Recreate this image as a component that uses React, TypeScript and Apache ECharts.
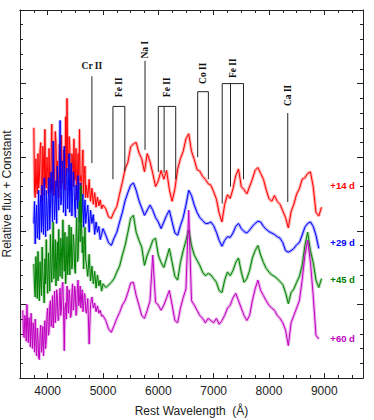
import React, { useEffect, useRef } from "react";
import * as echarts from "echarts";

// Rest wavelength grid (Å)
const wavelength = [
  3550, 3562.5, 3575, 3587.5, 3600, 3612.5, 3625, 3637.5, 3650, 3662.5,
  3675, 3687.5, 3700, 3712.5, 3725, 3737.5, 3750, 3762.5, 3775, 3787.5,
  3800, 3812.5, 3825, 3837.5, 3850, 3862.5, 3875, 3887.5, 3900, 3912.5,
  3925, 3937.5, 3950, 3962.5, 3975, 3987.5, 4000, 4012.5, 4025, 4037.5,
  4050, 4062.5, 4075, 4087.5, 4100, 4112.5, 4125, 4137.5, 4150, 4162.5,
  4175, 4187.5, 4200, 4212.5, 4225, 4237.5, 4250, 4262.5, 4275, 4287.5,
  4300, 4312.5, 4325, 4337.5, 4350, 4362.5, 4375, 4387.5, 4400, 4412.5,
  4425, 4437.5, 4450, 4462.5, 4475, 4487.5, 4500, 4512.5, 4525, 4537.5,
  4550, 4562.5, 4575, 4587.5, 4600, 4612.5, 4625, 4637.5, 4650, 4662.5,
  4675, 4687.5,
  4700, 4725, 4750, 4775, 4800, 4825, 4850, 4875, 4900, 4925, 4950, 4975,
  5000, 5050, 5100, 5150, 5200, 5250, 5300, 5350, 5400, 5450, 5500, 5550, 5600, 5650, 5700, 5750, 5800, 5850, 5900, 5950,
  6000, 6050, 6100, 6150, 6200, 6250, 6300, 6350, 6400, 6450, 6500, 6550, 6600, 6650, 6700, 6750, 6800, 6850, 6900, 6950,
  7000, 7050, 7100, 7150, 7200, 7250, 7300, 7350, 7400, 7450, 7500, 7550, 7600, 7650, 7700, 7750, 7800, 7850, 7900, 7950,
  8000, 8050, 8100, 8150, 8200, 8250, 8300, 8350, 8400, 8450, 8500, 8550, 8600, 8650, 8700, 8750, 8800, 8850, 8900, 8950,
];

// Relative flux + constant, per epoch
const flux14 = [
  null, null, null, null, null, null, null, null, null, null,
  null, null, null, null, null, null,
  3.40, 2.55, 2.45, 2.98, 2.62, 2.50, 3.05, 2.58, 2.70, 3.10,
  3.20, 2.52, 2.40, 3.15, 2.95, 2.48, 3.38, 2.62, 2.58, 3.00,
  2.78, 2.50, 3.12, 2.66, 2.52, 3.02, 3.45, 2.55, 2.85, 2.48,
  2.66, 3.35, 3.22, 2.60, 2.95, 2.70, 2.45, 3.18, 3.05, 2.58,
  3.30, 2.65, 2.72, 3.10, 2.92, 2.55, 3.55, 2.75, 3.80, 2.95,
  2.80, 3.28, 3.15, 2.55, 2.62, 3.05, 2.98, 2.60, 3.25, 2.68,
  2.70, 3.12, 2.42, 2.72, 3.05, 2.55, 3.38, 2.68, 2.75, 2.48,
  2.95, 3.10, 2.50, 2.78, 2.88, 2.45,
  2.62, 2.45, 2.70, 2.40, 2.58, 2.36, 2.52, 2.32, 2.46, 2.34, 2.42, 2.30,
  2.35, 2.30, 2.19, 2.17, 2.26, 2.33, 2.50, 2.66, 2.84, 2.93, 3.14, 3.18, 3.20, 3.06, 2.98, 2.80, 3.05, 2.94, 2.78, 2.60,
  2.68, 2.82, 2.70, 2.82, 2.56, 2.40, 2.57, 2.84, 2.98, 3.08, 3.25, 3.32, 3.08, 2.97, 2.83, 2.81, 2.74, 2.70, 2.64, 2.62,
  2.53, 2.43, 2.24, 2.12, 2.36, 2.49, 2.44, 2.57, 2.75, 2.84, 2.60, 2.56, 2.50, 2.60, 2.70, 2.82, 2.86, 2.78, 2.70, 2.56,
  2.44, 2.40, 2.48, 2.40, 2.36, 2.27, 2.18, 2.04, 2.26, 2.36, 2.50, 2.57, 2.70, 2.72, 2.78, 2.80, 2.60, 2.25, 2.20, 2.32,
];
const flux29 = [
  null, null, null, null, null, null, null, null, null, null,
  null, null, null, null, null, null,
  2.10, 2.40, 1.82, 2.15, 2.35, 1.90, 2.05, 2.55, 1.88, 2.30,
  2.48, 1.98, 2.62, 2.15, 1.95, 2.72, 2.25, 1.92, 2.55, 2.30,
  2.00, 2.45, 2.72, 2.02, 2.30, 2.80, 2.50, 2.12, 3.22, 2.55,
  2.15, 2.42, 2.68, 2.10, 2.88, 2.50, 2.28, 2.75, 3.50, 2.35,
  2.40, 2.95, 2.70, 2.25, 3.15, 2.55, 2.20, 2.78, 2.85, 2.30,
  2.60, 3.05, 2.25, 2.60, 2.92, 2.20, 2.45, 2.80, 2.70, 2.32,
  2.18, 2.62, 2.55, 2.30, 2.75, 2.40, 2.12, 2.65, 2.48, 2.15,
  2.30, 2.50, 2.05, 2.25, 2.42, 2.10,
  2.20, 2.35, 1.98, 2.28, 2.10, 2.22, 1.95, 2.12, 1.98, 2.06, 1.88, 1.95,
  2.03, 1.94, 1.84, 1.80, 1.90, 1.98, 2.12, 2.25, 2.41, 2.52, 2.62, 2.65, 2.55, 2.41, 2.31, 2.21, 2.28, 2.35, 2.28, 2.18,
  2.12, 2.03, 2.12, 2.21, 2.28, 2.12, 1.97, 1.94, 2.07, 2.18, 2.35, 2.55, 2.48, 2.35, 2.25, 2.18, 2.14, 2.10, 2.10, 2.12,
  2.07, 1.98, 1.87, 1.79, 1.87, 1.92, 1.91, 1.97, 2.06, 2.10, 2.03, 1.99, 1.97, 2.01, 2.06, 2.10, 2.13, 2.12, 2.06, 2.02,
  1.99, 1.97, 1.95, 1.92, 1.90, 1.84, 1.73, 1.71, 1.73, 1.76, 1.81, 1.84, 1.94, 2.05, 2.10, 2.12, 2.06, 1.94, 1.76, null,
];
const flux45 = [
  null, null, null, null, null, null, null, null, null, null,
  null, null, null, null, null, null,
  1.55, 1.25, 1.10, 1.65, 1.40, 1.08, 1.72, 1.35, 1.05, 1.58,
  1.30, 1.12, 1.78, 1.45, 1.20, 1.02, 1.62, 1.28, 1.88, 1.40,
  1.15, 1.70, 1.45, 1.18, 1.95, 1.50, 1.30, 1.75, 2.12, 1.35,
  1.55, 1.88, 1.25, 1.60, 1.85, 1.32, 2.02, 1.65, 1.38, 1.90,
  1.70, 1.35, 2.15, 1.72, 1.45, 1.98, 1.28, 1.55, 1.92, 1.40,
  1.62, 2.08, 1.40, 1.75, 2.05, 1.48, 1.58, 1.95, 1.82, 1.50,
  1.42, 1.90, 2.18, 1.58, 1.62, 2.05, 2.40, 1.85, 2.62, 2.10,
  1.70, 1.92, 1.48, 1.80, 2.05, 1.60,
  1.55, 1.38, 1.68, 1.32, 1.52, 1.28, 1.45, 1.22, 1.40, 1.25, 1.33, 1.18,
  1.28, 1.23, 1.26, 1.30, 1.35, 1.44, 1.52, 1.67, 1.80, 1.98, 2.17, 2.21, 1.98, 1.87, 1.78, 1.53, 1.67, 1.76, 1.87, 1.90,
  1.67, 1.57, 1.50, 1.63, 1.76, 1.57, 1.38, 1.33, 1.57, 1.73, 1.87, 2.01, 1.80, 1.67, 1.60, 1.53, 1.44, 1.39, 1.42, 1.40,
  1.35, 1.30, 1.19, 1.16, 1.33, 1.44, 1.39, 1.46, 1.57, 1.63, 1.44, 1.30, 1.35, 1.46, 1.63, 1.73, 1.80, 1.67, 1.57, 1.49,
  1.44, 1.40, 1.38, 1.35, 1.31, 1.27, 1.16, 1.01, 1.16, 1.21, 1.30, 1.38, 1.53, 1.80, 1.98, 1.73, 1.57, 1.33, 1.23, 1.35,
];
const flux60 = [
  0.92, 0.60, 0.55, 0.85, 0.78, 0.50, 1.00, 0.72, 0.48, 0.82,
  0.70, 0.42, 0.88, 0.62, 0.40, 0.75, 0.62, 0.35, 0.80, 0.50,
  0.30, 0.68, 0.55, 0.28, 0.25, 0.60, 0.72, 0.35, 0.45, 0.70,
  0.30, 0.58, 0.78, 0.40, 0.52, 0.85, 0.95, 0.58, 0.62, 0.98,
  1.05, 0.70, 0.80, 1.12, 0.68, 0.90, 1.18, 0.75, 0.88, 1.20,
  1.10, 0.78, 0.80, 1.08, 1.22, 0.85, 0.95, 1.25, 1.30, 0.90,
  0.37, 0.95, 1.02, 0.80, 1.25, 1.05, 0.88, 1.20, 1.10, 0.82,
  0.85, 1.15, 1.28, 0.92, 1.00, 1.25, 1.18, 0.85, 0.92, 1.22,
  1.33, 0.98, 1.05, 1.25, 0.95, 1.10, 1.20, 0.90, 0.98, 1.15,
  1.12, 0.92,
  0.88, 1.08, 0.46, 1.00, 1.10, 0.95, 1.02, 0.90, 0.98, 0.88, 0.92, 0.84,
  0.85, 0.78, 0.67, 0.62, 0.71, 0.81, 0.89, 0.99, 1.05, 1.16, 1.29, 1.30, 1.12, 0.99, 0.85, 0.81, 0.92, 1.05, 1.67, 1.03,
  0.99, 0.92, 0.99, 1.09, 1.19, 0.99, 0.78, 0.75, 0.95, 1.09, 1.21, 2.28, 1.05, 0.99, 0.92, 0.85, 0.81, 0.75, 0.81, 0.78,
  0.75, 0.81, 0.73, 0.78, 0.85, 0.95, 0.99, 1.09, 1.15, 1.05, 0.95, 0.85, 0.78, 0.85, 1.05, 1.21, 1.33, 1.19, 1.12, 1.05,
  0.99, 0.95, 0.92, 0.85, 0.81, 0.75, 0.65, 0.44, 0.75, 0.85, 0.95, 1.05, 1.33, 1.67, 1.87, 1.57, 1.12, 0.58, 0.53, null,
];

const epochNames = ["+14 d", "+29 d", "+45 d", "+60 d"];
const epochColors = ["#ff0000", "#0000ff", "#008000", "#c000c0"];
const epochLabelY = [2.62, 1.84, 1.34, 0.54];
const epochLabelX = 9110;

// Line identifications
const lineIdNames = ["Cr II", "Fe II", "Na I", "Fe II", "Co II", "Fe II", "Ca II"];
const lineIdWavelengths = [[4800], [5180, 5395], [5760], [6000, 6105, 6315], [6712, 6905], [7155, 7305, 7540], [8340]];
const lineIdTops = [4.10, 3.69, 4.31, 3.69, 3.89, 4.00, 3.60];
const lineIdBottoms = [[2.92], [2.70, 2.81], [3.10], [2.80, 2.79, 2.70], [3.00, 2.70], [2.37, 2.60, 2.70], [2.39]];
const lineIdLabelY = [4.24, 3.95, 4.46, 3.95, 4.14, 4.21, 3.84];
const lineIdRotated = [false, true, true, true, true, true, true];

const majorTicks = [4000, 5000, 6000, 7000, 8000, 9000];
const minorTicks = [3750, 4250, 4500, 4750, 5250, 5500, 5750, 6250, 6500, 6750, 7250, 7500, 7750, 8250, 8500, 8750, 9250, 9500];

const AXIS_COLOR = "#222";
const SANS = '"Liberation Sans", Arial, sans-serif';
const SERIF = '"Liberation Serif", "Times New Roman", serif';

export default function App() {
  const ref = useRef<HTMLDivElement>(null);
  useEffect(() => {
    document.body.style.margin = "0";
    const chart = echarts.init(ref.current!, undefined, { renderer: "svg" });
    const lineStyle = { color: AXIS_COLOR, width: 1 };
    const xCommon = { type: "value", min: 3500, max: 9700, splitLine: { show: false }, axisLine: { show: true, onZero: false, lineStyle } };
    const yCommon = {
      type: "value", min: 0, max: 5, interval: 1, splitLine: { show: false },
      axisLine: { show: true, onZero: false, lineStyle },
      axisTick: { show: true, inside: true, length: 6, lineStyle },
      minorTick: { show: true, splitNumber: 5, length: 3, lineStyle },
      axisLabel: { show: false },
    };
    const fluxes = [flux14, flux29, flux45, flux60];
    const spectra: any[] = [];
    fluxes.forEach((f, k) => {
      const data = wavelength.map((w, i) => [w, f[i]]).filter((p) => p[1] !== null && p[1] !== undefined);
      spectra.push({
        type: "line", name: epochNames[k] + " halo", xAxisIndex: 0, yAxisIndex: 0,
        showSymbol: false, symbol: "none", silent: true, data,
        lineStyle: { color: epochColors[k], width: 3.2, opacity: 0.3 }, z: 2 + k,
      });
      spectra.push({
        type: "line", name: epochNames[k], xAxisIndex: 0, yAxisIndex: 0,
        showSymbol: false, symbol: "none", silent: true, data,
        lineStyle: { color: epochColors[k], width: 1 }, z: 2 + k,
      });
    });
    const option: any = {
      animation: false,
      grid: { left: 20, right: 11, top: 10, bottom: 42, containLabel: false, outerBoundsMode: "none" },
      xAxis: [
        {
          ...xCommon, position: "bottom",
          axisTick: { show: true, inside: true, length: 5, customValues: majorTicks, lineStyle },
          axisLabel: {
            show: true, customValues: majorTicks, fontSize: 12, color: AXIS_COLOR, fontFamily: SANS, margin: 7,
            formatter: (v: number) => String(v),
          },
          name: "Rest Wavelength  (Å)", nameLocation: "middle", nameGap: 27,
          nameTextStyle: { fontSize: 12, color: AXIS_COLOR, fontFamily: SANS },
        },
        {
          ...xCommon, position: "bottom",
          axisTick: { show: true, inside: true, length: 3, customValues: minorTicks, lineStyle },
          axisLabel: { show: false },
        },
        {
          ...xCommon, position: "top",
          axisTick: { show: true, inside: true, length: 5, customValues: majorTicks, lineStyle },
          axisLabel: { show: false },
        },
        {
          ...xCommon, position: "top",
          axisTick: { show: true, inside: true, length: 3, customValues: minorTicks, lineStyle },
          axisLabel: { show: false },
        },
      ],
      yAxis: [
        {
          ...yCommon, position: "left",
          name: "Relative flux + Constant", nameLocation: "middle", nameGap: 7, nameRotate: 90,
          nameTextStyle: { fontSize: 12, color: AXIS_COLOR, fontFamily: SANS },
        },
        { ...yCommon, position: "right" },
      ],
      series: [
        ...spectra,
        {
          type: "custom",
          xAxisIndex: 0,
          yAxisIndex: 0,
          silent: true,
          clip: false,
          z: 10,
          data: lineIdNames.map((_, i) => [lineIdWavelengths[i][0], lineIdTops[i]]),
          renderItem: (params: any, api: any) => {
            const i = params.dataIndex;
            const ws = lineIdWavelengths[i];
            const top = lineIdTops[i];
            const children: any[] = [];
            const ls = { stroke: "#222", lineWidth: 1 };
            ws.forEach((w, j) => {
              const p1 = api.coord([w, top]);
              const p2 = api.coord([w, lineIdBottoms[i][j]]);
              children.push({ type: "line", shape: { x1: p1[0], y1: p1[1], x2: p2[0], y2: p2[1] }, style: ls });
            });
            if (ws.length > 1) {
              const a = api.coord([ws[0], top]);
              const b = api.coord([ws[ws.length - 1], top]);
              children.push({ type: "line", shape: { x1: a[0], y1: a[1], x2: b[0], y2: b[1] }, style: ls });
            }
            const cx = (ws[0] + ws[ws.length - 1]) / 2;
            const lp = api.coord([cx, lineIdLabelY[i]]);
            children.push({
              type: "text",
              x: lp[0],
              y: lp[1],
              rotation: lineIdRotated[i] ? Math.PI / 2 : 0,
              style: {
                text: lineIdNames[i], align: "center", verticalAlign: "middle",
                fontSize: 9.5, fontWeight: "bold", fontFamily: SERIF, fill: "#111",
              },
            });
            return { type: "group", children };
          },
        },
        {
          type: "custom",
          xAxisIndex: 0,
          yAxisIndex: 0,
          silent: true,
          clip: false,
          z: 10,
          data: epochNames.map((_, k) => [epochLabelX, epochLabelY[k]]),
          renderItem: (params: any, api: any) => {
            const k = params.dataIndex;
            const p = api.coord([epochLabelX, epochLabelY[k]]);
            return {
              type: "text",
              x: p[0],
              y: p[1],
              style: {
                text: epochNames[k], align: "left", verticalAlign: "middle",
                fontSize: 9.5, fontWeight: "bold", fontFamily: SANS, fill: epochColors[k],
              },
            };
          },
        },
      ],
    };
    chart.setOption(option);
    return () => chart.dispose();
  }, []);
  return <div ref={ref} style={{ width: 374, height: 420 }} />;
}
